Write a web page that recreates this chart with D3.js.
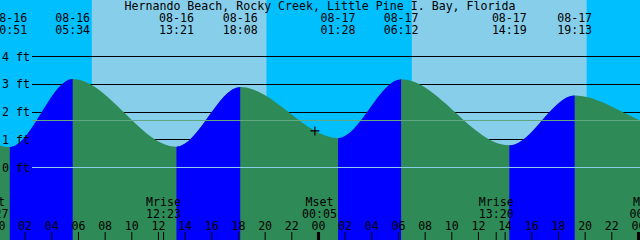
<!DOCTYPE html>
<html><head><meta charset="utf-8">
<script src="https://cdn.jsdelivr.net/npm/d3@7"></script>
<style>
html,body{margin:0;padding:0;background:#fff;}
svg{display:block;}
text{font-family:"DejaVu Sans Mono",monospace;font-size:11.6px;fill:#000;}
</style></head>
<body><svg id="c" width="640" height="240"></svg>
<script>
// ---- data ----
const title = "Hernando Beach, Rocky Creek, Little Pine I. Bay, Florida";
const viewStart = "08-16 00:07";
const viewEnd = "08-18 00:07";
const tideTimes = ["08-15 12:30","08-15 17:40","08-16 00:51","08-16 05:34","08-16 13:21","08-16 18:08","08-17 01:28","08-17 06:12","08-17 14:19","08-17 19:13","08-18 02:10","08-18 07:00"];
const tideHeights = [0.90, 2.70, 0.72, 3.17, 0.73, 2.88, 1.04, 3.16, 0.78, 2.58, 1.45, 3.10];
const sunriseTimes = ["08-15 07:00","08-16 07:00","08-17 07:00"];
const sunsetTimes = ["08-15 20:06","08-16 20:06","08-17 20:07"];
const moonTimes = ["08-15 23:27","08-16 12:23","08-17 00:05","08-17 13:20","08-18 00:38"];
const moonEvents = ["Mset","Mrise","Mset","Mrise","Mset"];
const yTicks = [0,1,2,3,4];
const meanLevel = 1.68;
const nowTime = "08-16 23:44";
const nowHeight = 1.30;

// ---- setup ----
const parse = d3.utcParse("%Y-%m-%d %H:%M");
const P = s => parse("2000-" + s);
const W = 640, H = 240;
const svg = d3.select("#c");
const x = d3.scaleUtc().domain([P(viewStart), P(viewEnd)]).range([0, W]);
const y = d3.scaleLinear().domain([0, 4]).range([167, 56]);
const fmtDate = d3.utcFormat("%m-%d"), fmtTime = d3.utcFormat("%H:%M");

const NIGHT = "#00BFFF", DAY = "#87CEEB", GREEN = "#2E8B57", BLUE = "#0000FF";

// background: night everywhere then day bands
svg.append("rect").attr("x",0).attr("y",0).attr("width",W).attr("height",H).attr("fill",NIGHT);
svg.selectAll("rect.day").data(sunriseTimes.map((s,i)=>[P(s),P(sunsetTimes[i])]))
  .join("rect").attr("class","day")
  .attr("x",d=>x(d[0])).attr("y",0)
  .attr("width",d=>Math.max(0,x(d[1])-x(d[0]))).attr("height",H)
  .attr("fill",DAY);

// black gridlines (behind water)
svg.selectAll("line.grid").data(yTicks.filter(v=>v>0)).join("line").attr("class","grid")
  .attr("x1",32).attr("x2",W).attr("y1",d=>Math.round(y(d))+0.5).attr("y2",d=>Math.round(y(d))+0.5)
  .attr("stroke","#000").attr("stroke-width",1);

// tide area
const tide = tideTimes.map((t,i)=>({t:P(t), h:tideHeights[i]}));
const area = d3.area().x(d=>x(d.t)).y0(H).y1(d=>y(d.h)).curve(d3.curveMonotoneX);
svg.append("path").datum(tide).attr("d",area).attr("fill",GREEN);

// rising segments in blue via clip rects
const rising = [];
for (let i=0;i<tide.length-1;i++) if (tide[i+1].h > tide[i].h) rising.push([tide[i].t, tide[i+1].t]);
const defs = svg.append("defs");
const cp = defs.append("clipPath").attr("id","rise");
cp.selectAll("rect").data(rising).join("rect")
  .attr("x",d=>x(d[0])).attr("y",0).attr("width",d=>x(d[1])-x(d[0])).attr("height",H);
svg.append("path").datum(tide).attr("d",area).attr("fill",BLUE).attr("clip-path","url(#rise)");

// zero line & mean line on top
svg.append("line").attr("x1",32).attr("x2",W).attr("y1",Math.round(y(0))+0.5).attr("y2",Math.round(y(0))+0.5)
  .attr("stroke","#87CEEB").attr("stroke-width",1);
svg.append("line").attr("x1",32).attr("x2",W).attr("y1",Math.round(y(meanLevel))+0.5).attr("y2",Math.round(y(meanLevel))+0.5)
  .attr("stroke","#5FA882").attr("stroke-width",1);

// y labels
svg.selectAll("text.yl").data(yTicks).join("text").attr("class","yl")
  .attr("x",2).attr("y",d=>y(d)+4.5).text(d=>d+" ft");

// now marker
const nx = x(P(nowTime)), ny = y(nowHeight);
svg.append("path").attr("d",`M${nx-4.5},${ny}H${nx+4.5}M${nx},${ny-4.5}V${ny+4.5}`)
  .attr("stroke","#000").attr("stroke-width",1.2);

// title
svg.append("text").attr("x",W/2).attr("y",9.5).attr("text-anchor","middle").text(title);

// tide extreme labels (top)
const shown = tide.filter(d=>x(d.t)>-20 && x(d.t)<W+20);
svg.selectAll("text.td").data(shown).join("text").attr("class","td")
  .attr("x",d=>x(d.t)).attr("y",21.5).attr("text-anchor","middle").text(d=>fmtDate(d.t));
svg.selectAll("text.tt").data(shown).join("text").attr("class","tt")
  .attr("x",d=>x(d.t)).attr("y",34).attr("text-anchor","middle").text(d=>fmtTime(d.t));

// bottom hour axis
const hours = d3.utcHour.every(2).range(P("08-15 22:00"), P("08-18 02:00"));
svg.selectAll("text.hr").data(hours).join("text").attr("class","hr")
  .attr("x",d=>x(d)).attr("y",230).attr("text-anchor","middle").text(d=>d3.utcFormat("%H")(d));
svg.selectAll("line.hk").data(hours).join("line").attr("class","hk")
  .attr("x1",d=>x(d)).attr("x2",d=>x(d)).attr("y1",232).attr("y2",H)
  .attr("stroke","#000").attr("stroke-width",d=>d.getUTCHours()===0?3:1);

// moon events
const moon = moonTimes.map((t,i)=>({t:P(t), e:moonEvents[i]}));
svg.selectAll("text.mn").data(moon).join("text").attr("class","mn")
  .attr("x",d=>x(d.t)).attr("y",206).attr("text-anchor","middle").text(d=>d.e);
svg.selectAll("text.mt").data(moon).join("text").attr("class","mt")
  .attr("x",d=>x(d.t)).attr("y",218).attr("text-anchor","middle").text(d=>fmtTime(d.t));
svg.selectAll("line.mk").data(moon).join("line").attr("class","mk")
  .attr("x1",d=>x(d.t)).attr("x2",d=>x(d.t)).attr("y1",232).attr("y2",H)
  .attr("stroke","#000").attr("stroke-width",1);
</script></body></html>
